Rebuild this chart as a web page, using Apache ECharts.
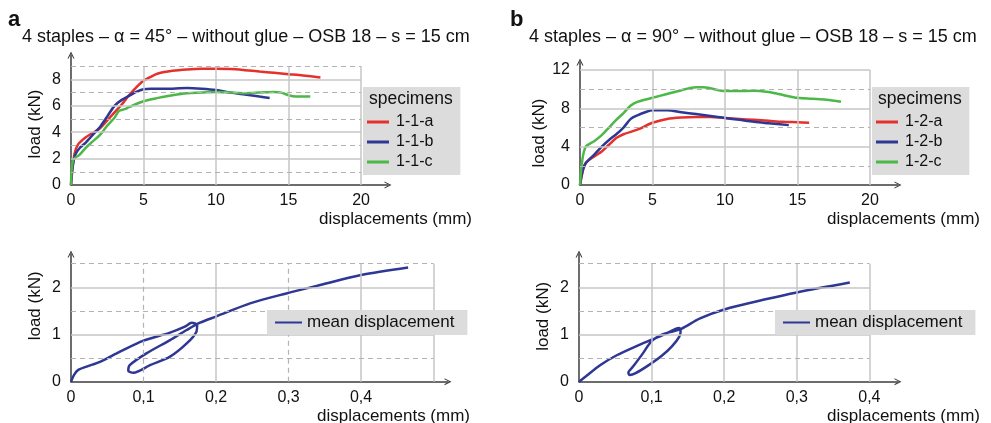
<!DOCTYPE html>
<html>
<head>
<meta charset="utf-8">
<script src="https://cdn.jsdelivr.net/npm/echarts@6/dist/echarts.min.js"></script>
<style>
html, body { margin: 0; padding: 0; background: #fff; }
#chart { width: 991px; height: 423px; }
</style>
</head>
<body>
<div id="chart"></div>
<script>
// a) alpha = 45 deg, specimens 1-1-x  [displacement mm, load kN]
var s11a = [[0,0],[0.1,1.2],[0.25,2.4],[0.5,3.1],[1,3.6],[1.5,3.95],[2,4.3],[2.5,4.9],[3,5.5],[3.5,6.1],[4,6.8],[4.5,7.4],[5,7.9],[5.5,8.2],[6,8.45],[7,8.65],[8,8.75],[9,8.8],[10,8.8],[11,8.78],[12,8.7],[13,8.6],[14,8.5],[15,8.4],[16,8.3],[17.2,8.15]];
var s11b = [[0,0],[0.1,1.3],[0.3,2.3],[0.6,2.8],[1,3.2],[1.5,3.8],[2,4.4],[2.5,5.2],[3,6.0],[3.5,6.45],[4,6.75],[4.5,7.05],[5,7.25],[5.5,7.3],[6,7.3],[7,7.3],[8,7.35],[9,7.3],[10,7.2],[11,7.0],[12,6.85],[13,6.7],[13.7,6.6]];
var s11c = [[0,0],[0.15,1.9],[0.6,2.3],[1,2.8],[1.5,3.3],[2,3.8],[2.5,4.5],[3,5.1],[3.3,5.6],[3.7,5.75],[4,5.9],[5,6.35],[6,6.6],[7,6.8],[8,6.95],[9,7.0],[10,7.05],[11,7.0],[12,6.95],[13,7.0],[14,7.05],[14.5,7.0],[15,6.8],[15.5,6.7],[16.5,6.7]];

// b) alpha = 90 deg, specimens 1-2-x
var s12a = [[0,0],[0.2,1.5],[0.4,2.3],[1,3.0],[1.5,3.5],[2,4.2],[2.5,4.9],[3,5.3],[4,5.8],[5,6.5],[6,6.9],[7,7.05],[8,7.1],[9,7.1],[10,7.0],[11,6.9],[12,6.8],[13,6.7],[14,6.6],[15,6.55],[15.8,6.5]];
var s12b = [[0,0],[0.2,1.6],[0.4,2.3],[1,3.2],[1.5,4.0],[2,4.7],[2.5,5.3],[3,6.0],[3.5,6.9],[4,7.3],[4.5,7.6],[5,7.8],[6,7.8],[7,7.6],[8,7.4],[9,7.2],[10,7.0],[11,6.8],[12,6.6],[13,6.45],[14.4,6.25]];
var s12c = [[0,0],[0.15,2.5],[0.4,4.0],[1,4.6],[1.5,5.2],[2,6.0],[2.5,6.8],[3,7.5],[3.5,8.3],[4,8.7],[5,9.1],[6,9.5],[7,9.9],[8,10.2],[8.5,10.2],[9,10.1],[10,9.8],[11,9.8],[12,9.85],[13,9.7],[14,9.4],[15,9.1],[16,9.0],[17,8.9],[18,8.7]];

// mean displacement with unload/reload loop
var meanA = [[0,0],[0.004,0.14],[0.01,0.25],[0.0216,0.32],[0.04,0.42],[0.0676,0.636],[0.1,0.87],[0.1366,1.04],[0.157,1.165],[0.1665,1.25],[0.174,1.2],[0.173,1.06],[0.1596,0.81],[0.1366,0.53],[0.109,0.35],[0.086,0.19],[0.079,0.233],[0.081,0.35],[0.104,0.6],[0.1366,0.88],[0.1596,1.095],[0.178,1.25],[0.2,1.38],[0.247,1.66],[0.297,1.87],[0.339,2.03],[0.4,2.26],[0.465,2.42]];
var meanB = [[0,0],[0.01,0.12],[0.029,0.35],[0.052,0.56],[0.08,0.76],[0.1,0.89],[0.12,1.02],[0.133,1.12],[0.138,1.14],[0.14,1.08],[0.138,0.95],[0.128,0.75],[0.114,0.55],[0.095,0.34],[0.078,0.18],[0.07,0.14],[0.068,0.19],[0.075,0.33],[0.088,0.6],[0.1,0.86],[0.115,1.0],[0.13,1.07],[0.141,1.12],[0.1667,1.34],[0.2,1.53],[0.2585,1.75],[0.3,1.89],[0.373,2.1]];

// tick labels
var xTicksTop = [0, 5, 10, 15, 20];
var yTicksA = [0, 2, 4, 6, 8];
var yTicksB = [0, 4, 8, 12];
var xTicksBot = [0, 0.1, 0.2, 0.3, 0.4];
var yTicksBot = [0, 1, 2];

// grid lines
var hSolidA = [2, 4, 6, 8], hDashA = [1, 3, 5, 7, 9];
var hSolidB = [4, 8, 12], hDashB = [2, 6, 10];
var vSolidTop = [5, 10, 15, 20];
var hSolidBot = [1, 2], hDashBot = [0.5, 1.5, 2.5];
var vSolidBotA = [0.2, 0.4, 0.5], vDashBotA = [0.1, 0.3];
var vSolidBotB = [0.1, 0.2, 0.3, 0.4];

var RED = '#e4312b', BLUE = '#2e3794', GREEN = '#4cb848';
var FONT = 'Liberation Sans';
var ARROW = 'path://M0,10 L5,0 L10,10 L8.4,10 L5,3.2 L1.6,10 Z';

var chart = echarts.init(document.getElementById('chart'));

function hLines(vals, xEnd) {
    return vals.map(function (v) { return [{ coord: [0, v] }, { coord: [xEnd, v] }]; });
}
function vLines(vals, yEnd) {
    return vals.map(function (v) { return [{ coord: [v, 0] }, { coord: [v, yEnd] }]; });
}
function gridLines(idx, lines, dashed) {
    return {
        type: 'line', xAxisIndex: idx, yAxisIndex: idx, data: [], silent: true, z: 1,
        markLine: {
            silent: true, animation: false, symbol: ['none', 'none'], label: { show: false },
            lineStyle: dashed ? { color: '#b2b2b2', width: 1.2, type: [5, 4] } : { color: '#c6c6c6', width: 1.5, type: 'solid' },
            emphasis: { disabled: true },
            data: lines
        }
    };
}
function curve(idx, name, color, data, width) {
    return {
        type: 'line', name: name, xAxisIndex: idx, yAxisIndex: idx, data: data, z: 3,
        showSymbol: false, smooth: 0.3, animation: false,
        lineStyle: { color: color, width: width }, itemStyle: { color: color }
    };
}
function comma(v) { return String(v).replace('.', ','); }

function xAxis(idx, max, ticks, fmt, gap) {
    return {
        type: 'value', gridIndex: idx, min: 0, max: max,
        axisLine: { show: true, onZero: false, lineStyle: { color: '#3c3c3c', width: 1.5 }, symbol: ['none', ARROW], symbolSize: [9, 7] },
        axisTick: { show: false }, splitLine: { show: false },
        axisLabel: { customValues: ticks, formatter: fmt, color: '#111', fontSize: 16, margin: 8, fontFamily: FONT },
        name: 'displacements (mm)', nameLocation: 'end', nameGap: gap,
        nameTextStyle: { align: 'right', verticalAlign: 'top', padding: [26, 0, 0, 0], color: '#111', fontSize: 17, fontFamily: FONT }
    };
}
function yAxis(idx, max, ticks, namePad) {
    return {
        type: 'value', gridIndex: idx, min: 0, max: max,
        axisLine: { show: true, onZero: false, lineStyle: { color: '#3c3c3c', width: 1.5 }, symbol: ['none', ARROW], symbolSize: [9, 7] },
        axisTick: { show: false }, splitLine: { show: false },
        axisLabel: { customValues: ticks, color: '#111', fontSize: 16, margin: 10, fontFamily: FONT },
        name: 'load (kN)', nameLocation: 'middle', nameGap: 27,
        nameTextStyle: { color: '#111', fontSize: 17, fontFamily: FONT, padding: namePad }
    };
}
function specLegend(left, names) {
    return {
        data: names, left: left, top: 87, orient: 'vertical', selectedMode: false, z: 20,
        backgroundColor: '#dcdcdc', padding: [27, 27, 5, 4],
        icon: 'rect', itemWidth: 22, itemHeight: 3, itemGap: 4,
        textStyle: { fontSize: 16, lineHeight: 16, color: '#111', fontFamily: FONT, padding: [0, 0, 0, 2] }
    };
}
function meanLegend(left) {
    return {
        data: ['mean displacement'], left: left, top: 310, orient: 'vertical', selectedMode: false, z: 20,
        backgroundColor: '#dcdcdc', padding: [4, 13, 4, 8],
        icon: 'rect', itemWidth: 27, itemHeight: 2,
        textStyle: { fontSize: 17, lineHeight: 17, color: '#111', fontFamily: FONT }
    };
}
function label(text, left, top, size, bold) {
    return { text: text, left: left, top: top, padding: 0, z: 30,
        textStyle: { fontSize: size, fontWeight: bold ? 'bold' : 'normal', color: '#111', fontFamily: FONT } };
}

var option = {
    animation: false,
    textStyle: { fontFamily: FONT },
    title: [
        label('a', 8, 9, 22, true),
        label('4 staples – α = 45° – without glue – OSB 18 – s = 15 cm', 22, 28, 18),
        label('b', 510, 9, 22, true),
        label('4 staples – α = 90° – without glue – OSB 18 – s = 15 cm', 529, 28, 18),
        label('specimens', 369, 90, 17.5),
        label('specimens', 878, 90, 17.5)
    ],
    legend: [
        specLegend(363, ['1-1-a', '1-1-b', '1-1-c']),
        specLegend(872, ['1-2-a', '1-2-b', '1-2-c']),
        meanLegend(267),
        meanLegend(775)
    ],
    grid: [
        { left: 71, top: 55, width: 317, height: 130, outerBoundsMode: 'none', containLabel: false },
        { left: 580, top: 62, width: 318, height: 123, outerBoundsMode: 'none', containLabel: false },
        { left: 71, top: 254, width: 377, height: 127.7, outerBoundsMode: 'none', containLabel: false },
        { left: 579, top: 254, width: 319, height: 127.7, outerBoundsMode: 'none', containLabel: false }
    ],
    xAxis: [
        xAxis(0, 21.86, xTicksTop, null, 84),
        xAxis(1, 21.93, xTicksTop, null, 82),
        xAxis(2, 0.52, xTicksBot, comma, 22),
        xAxis(3, 0.4394, xTicksBot, comma, 82)
    ],
    yAxis: [
        yAxis(0, 9.85, yTicksA, [0, 8, 0, 0]),
        yAxis(1, 12.84, yTicksB, [0, 19, 0, 0]),
        yAxis(2, 2.705, yTicksBot, [0, 0, 0, 24]),
        yAxis(3, 2.705, yTicksBot, [0, 0, 0, 3])
    ],
    series: [
        gridLines(0, hLines(hSolidA, 20).concat(vLines(vSolidTop, 9)), false),
        gridLines(0, hLines(hDashA, 20), true),
        gridLines(1, hLines(hSolidB, 20).concat(vLines(vSolidTop, 12)), false),
        gridLines(1, hLines(hDashB, 20), true),
        gridLines(2, hLines(hSolidBot, 0.5).concat(vLines(vSolidBotA, 2.5)), false),
        gridLines(2, hLines(hDashBot, 0.5).concat(vLines(vDashBotA, 2.5)), true),
        gridLines(3, hLines(hSolidBot, 0.4).concat(vLines(vSolidBotB, 2.5)), false),
        gridLines(3, hLines(hDashBot, 0.4), true),
        curve(0, '1-1-a', RED, s11a, 2.5),
        curve(0, '1-1-b', BLUE, s11b, 2.5),
        curve(0, '1-1-c', GREEN, s11c, 2.5),
        curve(1, '1-2-a', RED, s12a, 2.5),
        curve(1, '1-2-b', BLUE, s12b, 2.5),
        curve(1, '1-2-c', GREEN, s12c, 2.5),
        curve(2, 'mean displacement', BLUE, meanA, 2.5),
        curve(3, 'mean displacement', BLUE, meanB, 2.5)
    ]
};
chart.setOption(option);
</script>
</body>
</html>
